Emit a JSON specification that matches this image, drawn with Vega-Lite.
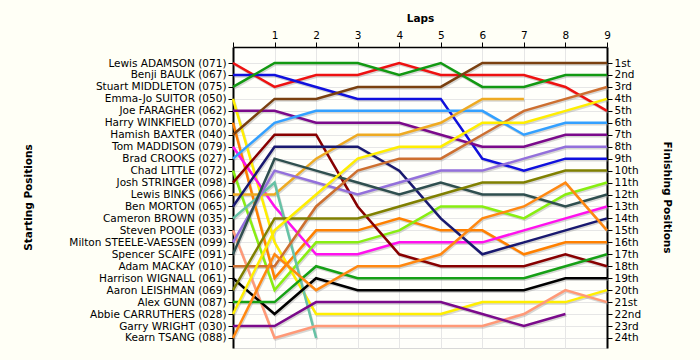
{
  "$schema": "https://vega.github.io/schema/vega-lite/v6.json",
  "autosize": {"type": "none"},
  "width": 374,
  "height": 301,
  "padding": {"left": 233, "top": 47, "right": 93, "bottom": 12},
  "background": "#fffff6",
  "config": {
    "view": {"stroke": "#d8d8d8", "fill": "#fffffb"},
    "axis": {"labelFont": "DejaVu Sans", "labelFontSize": 10.5, "labelColor": "#000000", "labelOverlap": false, "labelBound": false, "labelFlush": false, "titleFont": "DejaVu Sans", "titleFontSize": 10.5, "titleFontWeight": "bold", "titleColor": "#000000", "domainColor": "#000000", "tickColor": "#000000", "gridColor": "#e6e6e6", "gridWidth": 1},
    "axisQuantitative": {"labelOverlap": false}
  },
  "data": {"values": [
    {"driver":"Lewis ADAMSON (071)","lap":0,"pos":1},{"driver":"Lewis ADAMSON (071)","lap":1,"pos":3},{"driver":"Lewis ADAMSON (071)","lap":2,"pos":2},{"driver":"Lewis ADAMSON (071)","lap":3,"pos":2},{"driver":"Lewis ADAMSON (071)","lap":4,"pos":1},{"driver":"Lewis ADAMSON (071)","lap":5,"pos":2},{"driver":"Lewis ADAMSON (071)","lap":6,"pos":2},{"driver":"Lewis ADAMSON (071)","lap":7,"pos":2},{"driver":"Lewis ADAMSON (071)","lap":8,"pos":3},{"driver":"Lewis ADAMSON (071)","lap":9,"pos":5},
    {"driver":"Benji BAULK (067)","lap":0,"pos":2},{"driver":"Benji BAULK (067)","lap":1,"pos":2},{"driver":"Benji BAULK (067)","lap":2,"pos":3},{"driver":"Benji BAULK (067)","lap":3,"pos":4},{"driver":"Benji BAULK (067)","lap":4,"pos":4},{"driver":"Benji BAULK (067)","lap":5,"pos":4},{"driver":"Benji BAULK (067)","lap":6,"pos":9},{"driver":"Benji BAULK (067)","lap":7,"pos":10},{"driver":"Benji BAULK (067)","lap":8,"pos":9},{"driver":"Benji BAULK (067)","lap":9,"pos":9},
    {"driver":"Stuart MIDDLETON (075)","lap":0,"pos":3},{"driver":"Stuart MIDDLETON (075)","lap":1,"pos":1},{"driver":"Stuart MIDDLETON (075)","lap":2,"pos":1},{"driver":"Stuart MIDDLETON (075)","lap":3,"pos":1},{"driver":"Stuart MIDDLETON (075)","lap":4,"pos":2},{"driver":"Stuart MIDDLETON (075)","lap":5,"pos":1},{"driver":"Stuart MIDDLETON (075)","lap":6,"pos":3},{"driver":"Stuart MIDDLETON (075)","lap":7,"pos":3},{"driver":"Stuart MIDDLETON (075)","lap":8,"pos":2},{"driver":"Stuart MIDDLETON (075)","lap":9,"pos":2},
    {"driver":"Emma-Jo SUITOR (050)","lap":0,"pos":4},{"driver":"Emma-Jo SUITOR (050)","lap":1,"pos":16},{"driver":"Emma-Jo SUITOR (050)","lap":2,"pos":22},{"driver":"Emma-Jo SUITOR (050)","lap":3,"pos":22},{"driver":"Emma-Jo SUITOR (050)","lap":4,"pos":22},{"driver":"Emma-Jo SUITOR (050)","lap":5,"pos":22},{"driver":"Emma-Jo SUITOR (050)","lap":6,"pos":21},{"driver":"Emma-Jo SUITOR (050)","lap":7,"pos":21},{"driver":"Emma-Jo SUITOR (050)","lap":8,"pos":21},{"driver":"Emma-Jo SUITOR (050)","lap":9,"pos":20},
    {"driver":"Joe FARAGHER (062)","lap":0,"pos":5},{"driver":"Joe FARAGHER (062)","lap":1,"pos":5},{"driver":"Joe FARAGHER (062)","lap":2,"pos":6},{"driver":"Joe FARAGHER (062)","lap":3,"pos":6},{"driver":"Joe FARAGHER (062)","lap":4,"pos":6},{"driver":"Joe FARAGHER (062)","lap":5,"pos":7},{"driver":"Joe FARAGHER (062)","lap":6,"pos":8},{"driver":"Joe FARAGHER (062)","lap":7,"pos":8},{"driver":"Joe FARAGHER (062)","lap":8,"pos":7},{"driver":"Joe FARAGHER (062)","lap":9,"pos":7},
    {"driver":"Harry WINKFIELD (070)","lap":0,"pos":6},{"driver":"Harry WINKFIELD (070)","lap":1,"pos":19},{"driver":"Harry WINKFIELD (070)","lap":2,"pos":15},{"driver":"Harry WINKFIELD (070)","lap":3,"pos":15},{"driver":"Harry WINKFIELD (070)","lap":4,"pos":14},{"driver":"Harry WINKFIELD (070)","lap":5,"pos":15},{"driver":"Harry WINKFIELD (070)","lap":6,"pos":15},{"driver":"Harry WINKFIELD (070)","lap":7,"pos":17},{"driver":"Harry WINKFIELD (070)","lap":8,"pos":16},{"driver":"Harry WINKFIELD (070)","lap":9,"pos":16},
    {"driver":"Hamish BAXTER (040)","lap":0,"pos":7},{"driver":"Hamish BAXTER (040)","lap":1,"pos":4},{"driver":"Hamish BAXTER (040)","lap":2,"pos":4},{"driver":"Hamish BAXTER (040)","lap":3,"pos":3},{"driver":"Hamish BAXTER (040)","lap":4,"pos":3},{"driver":"Hamish BAXTER (040)","lap":5,"pos":3},{"driver":"Hamish BAXTER (040)","lap":6,"pos":1},{"driver":"Hamish BAXTER (040)","lap":7,"pos":1},{"driver":"Hamish BAXTER (040)","lap":8,"pos":1},{"driver":"Hamish BAXTER (040)","lap":9,"pos":1},
    {"driver":"Tom MADDISON (079)","lap":0,"pos":8},{"driver":"Tom MADDISON (079)","lap":1,"pos":13},{"driver":"Tom MADDISON (079)","lap":2,"pos":17},{"driver":"Tom MADDISON (079)","lap":3,"pos":17},{"driver":"Tom MADDISON (079)","lap":4,"pos":16},{"driver":"Tom MADDISON (079)","lap":5,"pos":16},{"driver":"Tom MADDISON (079)","lap":6,"pos":16},{"driver":"Tom MADDISON (079)","lap":7,"pos":15},{"driver":"Tom MADDISON (079)","lap":8,"pos":14},{"driver":"Tom MADDISON (079)","lap":9,"pos":13},
    {"driver":"Brad CROOKS (027)","lap":0,"pos":9},{"driver":"Brad CROOKS (027)","lap":1,"pos":6},{"driver":"Brad CROOKS (027)","lap":2,"pos":5},{"driver":"Brad CROOKS (027)","lap":3,"pos":5},{"driver":"Brad CROOKS (027)","lap":4,"pos":5},{"driver":"Brad CROOKS (027)","lap":5,"pos":5},{"driver":"Brad CROOKS (027)","lap":6,"pos":5},{"driver":"Brad CROOKS (027)","lap":7,"pos":7},{"driver":"Brad CROOKS (027)","lap":8,"pos":6},{"driver":"Brad CROOKS (027)","lap":9,"pos":6},
    {"driver":"Chad LITTLE (072)","lap":0,"pos":10},{"driver":"Chad LITTLE (072)","lap":1,"pos":20},{"driver":"Chad LITTLE (072)","lap":2,"pos":16},{"driver":"Chad LITTLE (072)","lap":3,"pos":16},{"driver":"Chad LITTLE (072)","lap":4,"pos":15},{"driver":"Chad LITTLE (072)","lap":5,"pos":13},{"driver":"Chad LITTLE (072)","lap":6,"pos":13},{"driver":"Chad LITTLE (072)","lap":7,"pos":14},{"driver":"Chad LITTLE (072)","lap":8,"pos":12},{"driver":"Chad LITTLE (072)","lap":9,"pos":11},
    {"driver":"Josh STRINGER (098)","lap":0,"pos":11},{"driver":"Josh STRINGER (098)","lap":1,"pos":7},{"driver":"Josh STRINGER (098)","lap":2,"pos":7},{"driver":"Josh STRINGER (098)","lap":3,"pos":13},{"driver":"Josh STRINGER (098)","lap":4,"pos":17},{"driver":"Josh STRINGER (098)","lap":5,"pos":18},{"driver":"Josh STRINGER (098)","lap":6,"pos":18},{"driver":"Josh STRINGER (098)","lap":7,"pos":18},{"driver":"Josh STRINGER (098)","lap":8,"pos":17},{"driver":"Josh STRINGER (098)","lap":9,"pos":18},
    {"driver":"Lewis BINKS (066)","lap":0,"pos":12},{"driver":"Lewis BINKS (066)","lap":1,"pos":12},{"driver":"Lewis BINKS (066)","lap":2,"pos":9},{"driver":"Lewis BINKS (066)","lap":3,"pos":7},{"driver":"Lewis BINKS (066)","lap":4,"pos":7},{"driver":"Lewis BINKS (066)","lap":5,"pos":6},{"driver":"Lewis BINKS (066)","lap":6,"pos":4},{"driver":"Lewis BINKS (066)","lap":7,"pos":4},
    {"driver":"Ben MORTON (065)","lap":0,"pos":13},{"driver":"Ben MORTON (065)","lap":1,"pos":8},{"driver":"Ben MORTON (065)","lap":2,"pos":8},{"driver":"Ben MORTON (065)","lap":3,"pos":8},{"driver":"Ben MORTON (065)","lap":4,"pos":10},{"driver":"Ben MORTON (065)","lap":5,"pos":14},{"driver":"Ben MORTON (065)","lap":6,"pos":17},{"driver":"Ben MORTON (065)","lap":7,"pos":16},{"driver":"Ben MORTON (065)","lap":8,"pos":15},{"driver":"Ben MORTON (065)","lap":9,"pos":14},
    {"driver":"Cameron BROWN (035)","lap":0,"pos":14},{"driver":"Cameron BROWN (035)","lap":1,"pos":11},{"driver":"Cameron BROWN (035)","lap":2,"pos":24},
    {"driver":"Steven POOLE (033)","lap":0,"pos":15},{"driver":"Steven POOLE (033)","lap":1,"pos":24},{"driver":"Steven POOLE (033)","lap":2,"pos":23},{"driver":"Steven POOLE (033)","lap":3,"pos":23},{"driver":"Steven POOLE (033)","lap":4,"pos":23},{"driver":"Steven POOLE (033)","lap":5,"pos":23},{"driver":"Steven POOLE (033)","lap":6,"pos":23},{"driver":"Steven POOLE (033)","lap":7,"pos":22},{"driver":"Steven POOLE (033)","lap":8,"pos":20},{"driver":"Steven POOLE (033)","lap":9,"pos":21},
    {"driver":"Milton STEELE-VAESSEN (099)","lap":0,"pos":16},{"driver":"Milton STEELE-VAESSEN (099)","lap":1,"pos":10},{"driver":"Milton STEELE-VAESSEN (099)","lap":2,"pos":11},{"driver":"Milton STEELE-VAESSEN (099)","lap":3,"pos":12},{"driver":"Milton STEELE-VAESSEN (099)","lap":4,"pos":11},{"driver":"Milton STEELE-VAESSEN (099)","lap":5,"pos":10},{"driver":"Milton STEELE-VAESSEN (099)","lap":6,"pos":10},{"driver":"Milton STEELE-VAESSEN (099)","lap":7,"pos":9},{"driver":"Milton STEELE-VAESSEN (099)","lap":8,"pos":8},{"driver":"Milton STEELE-VAESSEN (099)","lap":9,"pos":8},
    {"driver":"Spencer SCAIFE (091)","lap":0,"pos":17},{"driver":"Spencer SCAIFE (091)","lap":1,"pos":9},{"driver":"Spencer SCAIFE (091)","lap":2,"pos":10},{"driver":"Spencer SCAIFE (091)","lap":3,"pos":11},{"driver":"Spencer SCAIFE (091)","lap":4,"pos":12},{"driver":"Spencer SCAIFE (091)","lap":5,"pos":11},{"driver":"Spencer SCAIFE (091)","lap":6,"pos":12},{"driver":"Spencer SCAIFE (091)","lap":7,"pos":12},{"driver":"Spencer SCAIFE (091)","lap":8,"pos":13},{"driver":"Spencer SCAIFE (091)","lap":9,"pos":12},
    {"driver":"Adam MACKAY (010)","lap":0,"pos":18},{"driver":"Adam MACKAY (010)","lap":1,"pos":18},{"driver":"Adam MACKAY (010)","lap":2,"pos":13},{"driver":"Adam MACKAY (010)","lap":3,"pos":10},{"driver":"Adam MACKAY (010)","lap":4,"pos":9},{"driver":"Adam MACKAY (010)","lap":5,"pos":9},{"driver":"Adam MACKAY (010)","lap":6,"pos":7},{"driver":"Adam MACKAY (010)","lap":7,"pos":5},{"driver":"Adam MACKAY (010)","lap":8,"pos":4},{"driver":"Adam MACKAY (010)","lap":9,"pos":3},
    {"driver":"Harrison WIGNALL (061)","lap":0,"pos":19},{"driver":"Harrison WIGNALL (061)","lap":1,"pos":22},{"driver":"Harrison WIGNALL (061)","lap":2,"pos":19},{"driver":"Harrison WIGNALL (061)","lap":3,"pos":20},{"driver":"Harrison WIGNALL (061)","lap":4,"pos":20},{"driver":"Harrison WIGNALL (061)","lap":5,"pos":20},{"driver":"Harrison WIGNALL (061)","lap":6,"pos":20},{"driver":"Harrison WIGNALL (061)","lap":7,"pos":20},{"driver":"Harrison WIGNALL (061)","lap":8,"pos":19},{"driver":"Harrison WIGNALL (061)","lap":9,"pos":19},
    {"driver":"Aaron LEISHMAN (069)","lap":0,"pos":20},{"driver":"Aaron LEISHMAN (069)","lap":1,"pos":14},{"driver":"Aaron LEISHMAN (069)","lap":2,"pos":14},{"driver":"Aaron LEISHMAN (069)","lap":3,"pos":14},{"driver":"Aaron LEISHMAN (069)","lap":4,"pos":13},{"driver":"Aaron LEISHMAN (069)","lap":5,"pos":12},{"driver":"Aaron LEISHMAN (069)","lap":6,"pos":11},{"driver":"Aaron LEISHMAN (069)","lap":7,"pos":11},{"driver":"Aaron LEISHMAN (069)","lap":8,"pos":10},{"driver":"Aaron LEISHMAN (069)","lap":9,"pos":10},
    {"driver":"Alex GUNN (087)","lap":0,"pos":21},{"driver":"Alex GUNN (087)","lap":1,"pos":21},{"driver":"Alex GUNN (087)","lap":2,"pos":18},{"driver":"Alex GUNN (087)","lap":3,"pos":19},{"driver":"Alex GUNN (087)","lap":4,"pos":19},{"driver":"Alex GUNN (087)","lap":5,"pos":19},{"driver":"Alex GUNN (087)","lap":6,"pos":19},{"driver":"Alex GUNN (087)","lap":7,"pos":19},{"driver":"Alex GUNN (087)","lap":8,"pos":18},{"driver":"Alex GUNN (087)","lap":9,"pos":17},
    {"driver":"Abbie CARRUTHERS (028)","lap":0,"pos":22},{"driver":"Abbie CARRUTHERS (028)","lap":1,"pos":15},{"driver":"Abbie CARRUTHERS (028)","lap":2,"pos":12},{"driver":"Abbie CARRUTHERS (028)","lap":3,"pos":9},{"driver":"Abbie CARRUTHERS (028)","lap":4,"pos":8},{"driver":"Abbie CARRUTHERS (028)","lap":5,"pos":8},{"driver":"Abbie CARRUTHERS (028)","lap":6,"pos":6},{"driver":"Abbie CARRUTHERS (028)","lap":7,"pos":6},{"driver":"Abbie CARRUTHERS (028)","lap":8,"pos":5},{"driver":"Abbie CARRUTHERS (028)","lap":9,"pos":4},
    {"driver":"Garry WRIGHT (030)","lap":0,"pos":23},{"driver":"Garry WRIGHT (030)","lap":1,"pos":23},{"driver":"Garry WRIGHT (030)","lap":2,"pos":21},{"driver":"Garry WRIGHT (030)","lap":3,"pos":21},{"driver":"Garry WRIGHT (030)","lap":4,"pos":21},{"driver":"Garry WRIGHT (030)","lap":5,"pos":21},{"driver":"Garry WRIGHT (030)","lap":6,"pos":22},{"driver":"Garry WRIGHT (030)","lap":7,"pos":23},{"driver":"Garry WRIGHT (030)","lap":8,"pos":22},
    {"driver":"Kearn TSANG (088)","lap":0,"pos":24},{"driver":"Kearn TSANG (088)","lap":1,"pos":17},{"driver":"Kearn TSANG (088)","lap":2,"pos":20},{"driver":"Kearn TSANG (088)","lap":3,"pos":18},{"driver":"Kearn TSANG (088)","lap":4,"pos":18},{"driver":"Kearn TSANG (088)","lap":5,"pos":17},{"driver":"Kearn TSANG (088)","lap":6,"pos":14},{"driver":"Kearn TSANG (088)","lap":7,"pos":13},{"driver":"Kearn TSANG (088)","lap":8,"pos":11},{"driver":"Kearn TSANG (088)","lap":9,"pos":15}
  ]},
  "layer": [
    {
      "layer": [
        {
          "mark": {"type": "line", "strokeWidth": 2.5, "color": "#9a9a9a", "opacity": 0.4, "xOffset": 1, "yOffset": 1.5},
          "encoding": {
            "x": {"field": "lap", "type": "quantitative", "scale": {"domain": [0, 9], "nice": false, "zero": false},
              "axis": {"orient": "top", "values": [0,1,2,3,4,5,6,7,8,9], "labelExpr": "datum.value == 0 ? '' : datum.label", "labelOverlap": false, "title": "Laps", "titleY": -24, "tickSize": 5, "labelPadding": 2, "domainWidth": 1.5}},
            "y": {"field": "pos", "type": "quantitative", "scale": {"domain": [-0.34, 24.84], "nice": false, "zero": false, "reverse": true},
              "axis": {"orient": "left", "values": [1,2,3,4,5,6,7,8,9,10,11,12,13,14,15,16,17,18,19,20,21,22,23,24], "labelOverlap": false, "labelExpr": "['Lewis ADAMSON (071)','Benji BAULK (067)','Stuart MIDDLETON (075)','Emma-Jo SUITOR (050)','Joe FARAGHER (062)','Harry WINKFIELD (070)','Hamish BAXTER (040)','Tom MADDISON (079)','Brad CROOKS (027)','Chad LITTLE (072)','Josh STRINGER (098)','Lewis BINKS (066)','Ben MORTON (065)','Cameron BROWN (035)','Steven POOLE (033)','Milton STEELE-VAESSEN (099)','Spencer SCAIFE (091)','Adam MACKAY (010)','Harrison WIGNALL (061)','Aaron LEISHMAN (069)','Alex GUNN (087)','Abbie CARRUTHERS (028)','Garry WRIGHT (030)','Kearn TSANG (088)'][datum.value - 1]", "title": "Starting Positions", "titleX": -200, "titleY": 150, "tickSize": 5, "labelPadding": 2, "domainWidth": 2}},
            "detail": {"field": "driver", "type": "nominal"},
            "order": {"field": "lap", "type": "quantitative"}
          }
        },
        {
          "mark": {"type": "line", "strokeWidth": 2.5},
          "encoding": {
            "x": {"field": "lap", "type": "quantitative",
              "axis": {"orient": "top", "values": [0,1,2,3,4,5,6,7,8,9], "labelExpr": "datum.value == 0 ? '' : datum.label", "labelOverlap": false, "title": "Laps", "titleY": -24, "tickSize": 5, "labelPadding": 2, "domainWidth": 1.5}},
            "y": {"field": "pos", "type": "quantitative",
              "axis": {"orient": "left", "values": [1,2,3,4,5,6,7,8,9,10,11,12,13,14,15,16,17,18,19,20,21,22,23,24], "labelOverlap": false, "labelExpr": "['Lewis ADAMSON (071)','Benji BAULK (067)','Stuart MIDDLETON (075)','Emma-Jo SUITOR (050)','Joe FARAGHER (062)','Harry WINKFIELD (070)','Hamish BAXTER (040)','Tom MADDISON (079)','Brad CROOKS (027)','Chad LITTLE (072)','Josh STRINGER (098)','Lewis BINKS (066)','Ben MORTON (065)','Cameron BROWN (035)','Steven POOLE (033)','Milton STEELE-VAESSEN (099)','Spencer SCAIFE (091)','Adam MACKAY (010)','Harrison WIGNALL (061)','Aaron LEISHMAN (069)','Alex GUNN (087)','Abbie CARRUTHERS (028)','Garry WRIGHT (030)','Kearn TSANG (088)'][datum.value - 1]", "title": "Starting Positions", "titleX": -200, "titleY": 150, "tickSize": 5, "labelPadding": 2, "domainWidth": 2}},
            "color": {"field": "driver", "type": "nominal", "legend": null,
              "scale": {
                "domain": ["Lewis ADAMSON (071)","Benji BAULK (067)","Stuart MIDDLETON (075)","Emma-Jo SUITOR (050)","Joe FARAGHER (062)","Harry WINKFIELD (070)","Hamish BAXTER (040)","Tom MADDISON (079)","Brad CROOKS (027)","Chad LITTLE (072)","Josh STRINGER (098)","Lewis BINKS (066)","Ben MORTON (065)","Cameron BROWN (035)","Steven POOLE (033)","Milton STEELE-VAESSEN (099)","Spencer SCAIFE (091)","Adam MACKAY (010)","Harrison WIGNALL (061)","Aaron LEISHMAN (069)","Alex GUNN (087)","Abbie CARRUTHERS (028)","Garry WRIGHT (030)","Kearn TSANG (088)"],
                "range": ["#ee1111","#1010dd","#129912","#ffee00","#7b0a8b","#ff8000","#7a4010","#ff11ee","#33a0ff","#88ee11","#880000","#eeaa22","#191970","#66c2a5","#ff9977","#9370db","#2f4f4f","#cd6f30","#000000","#808000","#16a016","#ffee00","#7b0a8b","#ff8811"]
              }},
            "order": {"field": "lap", "type": "quantitative"}
          }
        }
      ]
    },
    {
      "mark": {"type": "rule", "opacity": 0},
      "encoding": {
        "y": {"field": "pos", "type": "quantitative", "scale": {"domain": [-0.34, 24.84], "nice": false, "zero": false, "reverse": true},
          "axis": {"orient": "right", "grid": false, "labelOverlap": false, "values": [1,2,3,4,5,6,7,8,9,10,11,12,13,14,15,16,17,18,19,20,21,22,23,24], "labelExpr": "datum.value + ((datum.value == 1 || datum.value == 21) ? 'st' : (datum.value == 2 || datum.value == 22) ? 'nd' : (datum.value == 3 || datum.value == 23) ? 'rd' : 'th')", "title": "Finishing Positions", "titleAngle": 90, "titleX": 54, "titleY": 150, "tickSize": 5, "labelPadding": 2, "domainWidth": 2}}
      }
    }
  ],
  "resolve": {"scale": {"y": "independent"}}
}
